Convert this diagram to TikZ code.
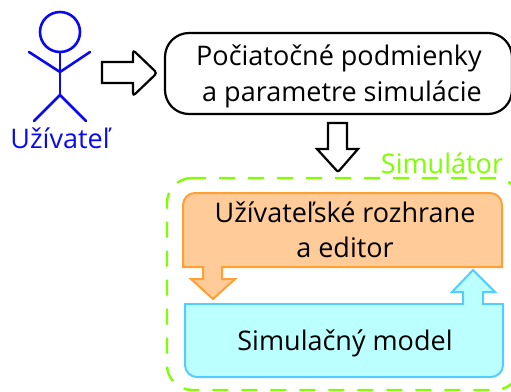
\documentclass[tikz,border=0pt]{standalone}
\usepackage{fontspec}
\setmainfont{Open Sans}
\definecolor{actorblue}{HTML}{0A0AF0}
\definecolor{simgreen}{HTML}{80FF00}
\definecolor{orangefill}{HTML}{FFCC99}
\definecolor{orangeline}{HTML}{FFA033}
\definecolor{bluefill}{HTML}{BBFFFF}
\definecolor{blueline}{HTML}{55CCFF}
\tikzset{
  actorline/.style={draw=actorblue,line width=2.6pt,line cap=round},
  blockarrow/.style={draw=black,line width=2.2pt,fill=white},
  label/.style={inner sep=0pt,anchor=base,text=black,font=\fontsize{27}{30}\selectfont},
}
\begin{document}
\begin{tikzpicture}[x=1pt,y=-1pt]
\useasboundingbox (0,0) rectangle (511,391);
% actor
\draw[actorline] (60,32) circle (20);
\draw[actorline] (60,52) -- (60,95);
\draw[actorline] (29,52) -- (60,72) -- (90,52);
\draw[actorline] (34,121) -- (60,95) -- (86,121);
\node[label,text=actorblue] (user) at (60,148) {Užívateľ};
% arrow to initial conditions
\draw[blockarrow,line join=miter] (102,62) -- (133,62) [rounded corners=3pt] -- (133,50) -- (157,73) -- (133,96) [sharp corners] -- (133,83) -- (102,83) -- cycle;
% initial conditions
\draw[draw=black,line width=2.2pt,rounded corners=24pt] (165,33) rectangle (512,114);
\node[label] (init1) at (339,65) {Počiatočné podmienky};
\node[label] (init2) at (342,101) {a parametre simulácie};
% arrow down
\draw[blockarrow,line join=miter] (328,123) -- (347,123) -- (347,149) -- (358,149) [rounded corners=2pt] -- (338,172) [sharp corners] -- (317,149) -- (328,149) -- cycle;
% simulator
\draw[draw=simgreen,line width=2.4pt,dash pattern=on 16pt off 13pt,dash phase=2pt,rounded corners=25pt] (192,178) -- (520,178) -- (520,390) -- (167,390) -- (167,178) -- (192,178);
\node[label,text=simgreen] (sim) at (442,173) {Simulátor};
% orange box and arrow
\draw[draw=orangeline,fill=orangefill,line width=2pt,line join=miter]
  (183,267) [rounded corners=12pt] -- (183,193) -- (502,193) [sharp corners] -- (502,205) -- (502,267) -- (222,267) -- (222,279) -- (235,279) -- (213,299) -- (191,279) -- (203,279) -- (203,267) -- cycle;
\node[label] (ui1) at (345,222) {Užívateľské rozhrane};
\node[label] (ui2) at (345,257) {a editor};
% blue box and arrow
\draw[draw=blueline,fill=bluefill,line width=2pt,line join=miter]
  (185,304) -- (463,304) -- (463,292) -- (452,292) -- (473,270) -- (495,292) -- (483,292) -- (483,304) -- (503,304) [rounded corners=12pt] -- (503,377) -- (185,377) [sharp corners] -- cycle;
\node[label] (model) at (345,350) {Simulačný model};
\end{tikzpicture}
\end{document}
